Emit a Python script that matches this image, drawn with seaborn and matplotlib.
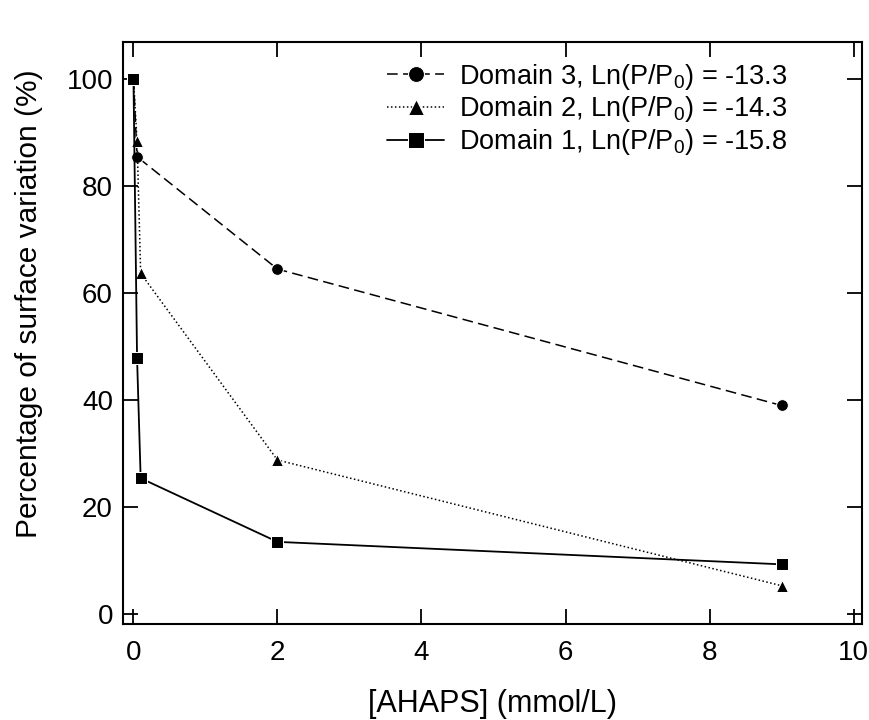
import pandas as pd
import matplotlib.pyplot as plt
import seaborn as sns

sns.set_style("ticks")
plt.rcParams["font.family"] = ["Liberation Sans", "DejaVu Sans"]
plt.rcParams["mathtext.fontset"] = "custom"
plt.rcParams["mathtext.rm"] = "Liberation Sans"
plt.rcParams["mathtext.it"] = "Liberation Sans"
plt.rcParams["text.color"] = "black"
plt.rcParams["axes.labelcolor"] = "black"

# concentrations (mmol/L) and surface variation (%)
conc_d3 = [0, 0.05, 2, 9]
d3 = [100, 85.5, 64.5, 39.0]
conc_d2 = [0, 0.05, 0.1, 2, 9]
d2 = [100, 88.5, 63.7, 28.8, 5.3]
conc_d1 = [0, 0.05, 0.1, 2, 9]
d1 = [100, 47.8, 25.4, 13.5, 9.3]

labels = ["Domain 3, Ln(P/P$_0$) = -13.3",
          "Domain 2, Ln(P/P$_0$) = -14.3",
          "Domain 1, Ln(P/P$_0$) = -15.8"]

fig = plt.figure(figsize=(8.7, 7.2), dpi=100)
ax = fig.add_axes([0.141, 0.133, 0.850, 0.809])

sns.lineplot(x=conc_d3, y=d3, ax=ax, color="black", marker="o", markersize=8.5,
             linestyle=(0, (7, 3.5)), linewidth=1.1, label=labels[0], sort=False)
sns.lineplot(x=conc_d2, y=d2, ax=ax, color="black", marker="^", markersize=9,
             linestyle=(0, (1, 1.6)), linewidth=1.1, label=labels[1], sort=False)
sns.lineplot(x=conc_d1, y=d1, ax=ax, color="black", marker="s", markersize=9,
             linestyle="-", linewidth=1.3, label=labels[2], sort=False)

ax.set_xlim(-0.15, 10.12)
ax.set_ylim(-1.9, 107)
ax.set_xticks([0, 2, 4, 6, 8, 10])
ax.set_yticks([0, 20, 40, 60, 80, 100])
ax.tick_params(direction="in", length=11, width=1.3, top=True, right=True,
               labelsize=20, colors="black")
ax.tick_params(axis="x", pad=11)
ax.tick_params(axis="y", pad=7)
for sp in ax.spines.values():
    sp.set_linewidth(1.5)
    sp.set_color("black")

ax.set_xlabel("[AHAPS] (mmol/L)", fontsize=22, labelpad=17)
ax.set_ylabel("Percentage of surface variation (%)", fontsize=21.5)
ax.yaxis.set_label_coords(-0.108, 0.55)

ax.legend(loc="upper left", bbox_to_anchor=(0.358, 0.966), frameon=False,
          fontsize=19.5, handlelength=2.1, handletextpad=0.55, labelspacing=0.1,
          markerscale=1.35, borderpad=0, borderaxespad=0)

fig.savefig("out.png", dpi=100)
